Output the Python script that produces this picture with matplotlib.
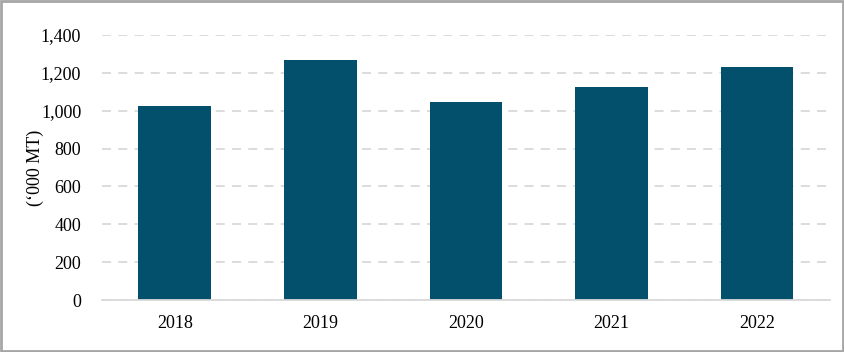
import matplotlib
matplotlib.use("Agg")
import matplotlib.pyplot as plt
from matplotlib.patches import Rectangle

# Data
years = ["2018", "2019", "2020", "2021", "2022"]
volumes = [1025, 1268, 1046, 1125, 1231]
y_ticks = [0, 200, 400, 600, 800, 1000, 1200, 1400]

plt.rcParams["font.family"] = ["Liberation Serif", "DejaVu Serif"]

fig = plt.figure(figsize=(8.45, 3.52), dpi=100)
ax = fig.add_axes([0.1207, 0.1477, 0.8613, 0.7529])

ax.bar(range(len(years)), volumes, width=0.5, color="#02506b", zorder=3)

ax.set_xlim(-0.5, len(years) - 0.5)
ax.set_ylim(0, 1400)
ax.set_xticks(range(len(years)))
ax.set_xticklabels(years, fontsize=13)
ax.set_yticks(y_ticks)
ax.set_yticklabels([f"{v:,}" for v in y_ticks], fontsize=13)
ax.tick_params(length=0)
ax.tick_params(axis="y", pad=15)
ax.tick_params(axis="x", pad=11)

ax.yaxis.grid(True, color="#d9d9d9", linestyle=(0, (5, 4)), linewidth=1.3, zorder=0)
for s in ["top", "right", "left"]:
    ax.spines[s].set_visible(False)
ax.spines["bottom"].set_color("#d9d9d9")
ax.spines["bottom"].set_linewidth(1.3)
ax.spines["bottom"].set_zorder(4)

ax.set_ylabel("(\u2018000 MT)", fontsize=13, labelpad=-2)

# grey frame around the whole figure
fig.patches.append(Rectangle((0.001, 0.002), 0.997, 0.995, transform=fig.transFigure,
                             fill=False, edgecolor="#a6a6a6", linewidth=2))

fig.savefig("out.png", dpi=100)
